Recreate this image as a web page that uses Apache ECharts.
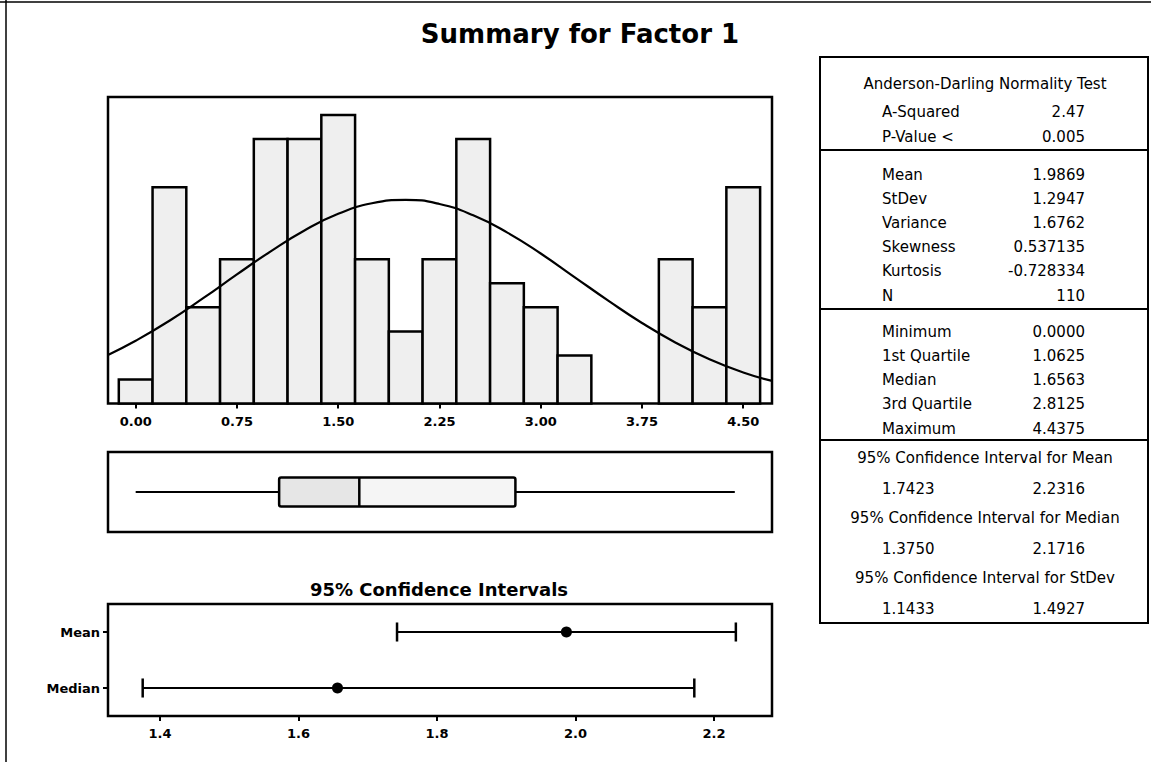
<!DOCTYPE html>
<html><head><meta charset="utf-8">
<script src="https://cdn.jsdelivr.net/npm/echarts@6/dist/echarts.min.js"></script>
<style>html,body{margin:0;padding:0;background:#fff}#c{width:1151px;height:762px}</style>
</head><body><div id="c"></div>
<script>
// ---- data ----
const binCenters = [0, 0.25, 0.5, 0.75, 1, 1.25, 1.5, 1.75, 2, 2.25, 2.5, 2.75, 3, 3.25, 3.5, 3.75, 4, 4.25, 4.5];
const binCounts  = [1, 9, 4, 6, 11, 11, 12, 6, 3, 6, 11, 5, 4, 2, 0, 0, 6, 4, 9];
const binWidth = 0.25;
const curveX = [-0.205, 0, 0.25, 0.5, 0.75, 1, 1.25, 1.5, 1.75, 2, 2.25, 2.5, 2.75, 3, 3.25, 3.5, 3.75, 4, 4.25, 4.5, 4.713];
const curveY = [2.02, 2.61, 3.44, 4.38, 5.37, 6.33, 7.2, 7.89, 8.33, 8.47, 8.3, 7.83, 7.12, 6.24, 5.26, 4.28, 3.35, 2.53, 1.84, 1.29, 0.94];
const histTicks = [0, 0.75, 1.5, 2.25, 3, 3.75, 4.5];
const boxStats = [0, 1.0625, 1.6563, 2.8125, 4.4375];
const ciLabels = ['Mean', 'Median'];
const ciLow  = [1.7423, 1.3750];
const ciHigh = [2.2316, 2.1716];
const ciEst  = [1.9869, 1.6563];
const ciTicks = [1.4, 1.6, 1.8, 2.0, 2.2];
const chartTitle = 'Summary for Factor 1';
const ciTitle = '95% Confidence Intervals';
const adHeader = 'Anderson-Darling Normality Test';
const adLabels = ['A-Squared', 'P-Value <'];
const adValues = ['2.47', '0.005'];
const momentLabels = ['Mean', 'StDev', 'Variance', 'Skewness', 'Kurtosis', 'N'];
const momentValues = ['1.9869', '1.2947', '1.6762', '0.537135', '-0.728334', '110'];
const quantLabels = ['Minimum', '1st Quartile', 'Median', '3rd Quartile', 'Maximum'];
const quantValues = ['0.0000', '1.0625', '1.6563', '2.8125', '4.4375'];
const ciTableHeaders = ['95% Confidence Interval for Mean', '95% Confidence Interval for Median', '95% Confidence Interval for StDev'];
const ciTableLow  = ['1.7423', '1.3750', '1.1433'];
const ciTableHigh = ['2.2316', '2.1716', '1.4927'];

// ---- layout ----
const FONT = "'DejaVu Sans', Verdana, sans-serif";
const GL = 108, GW = 664;
function txt(text, x, y, size, align, weight) {
  return { type: 'text', silent: true, style: {
    text: text, x: x, y: y, fill: '#000',
    font: (weight || 'normal') + ' ' + size + 'px ' + FONT,
    textAlign: align, textVerticalAlign: 'middle', align: align, verticalAlign: 'middle' } };
}
const graphics = [];
// page frame
graphics.push({ type: 'line', silent: true, shape: { x1: 0, y1: 2, x2: 1151, y2: 2 }, style: { stroke: '#000', lineWidth: 1.5 } });
graphics.push({ type: 'line', silent: true, shape: { x1: 6, y1: 0, x2: 6, y2: 762 }, style: { stroke: '#000', lineWidth: 1.5 } });
graphics.push(txt(chartTitle, 580, 34, 26, 'center', 'bold'));
graphics.push(txt(ciTitle, 439, 589, 18, 'center', 'bold'));
// table
const TX0 = 820, TX1 = 1148;
graphics.push({ type: 'rect', silent: true, shape: { x: TX0, y: 57, width: TX1 - TX0, height: 566 }, style: { fill: 'none', stroke: '#000', lineWidth: 2 } });
[150, 309, 440].forEach(function (y) {
  graphics.push({ type: 'line', silent: true, shape: { x1: TX0, y1: y, x2: TX1, y2: y }, style: { stroke: '#000', lineWidth: 2 } });
});
const LX = 882, RX = 1085, CX = 985, FS = 15;
graphics.push(txt(adHeader, CX, 84, FS, 'center'));
adLabels.forEach(function (l, i) { graphics.push(txt(l, LX, 112 + i * 24.5, FS, 'left')); graphics.push(txt(adValues[i], RX, 112 + i * 24.5, FS, 'right')); });
momentLabels.forEach(function (l, i) { graphics.push(txt(l, LX, 175 + i * 24.1, FS, 'left')); graphics.push(txt(momentValues[i], RX, 175 + i * 24.1, FS, 'right')); });
quantLabels.forEach(function (l, i) { graphics.push(txt(l, LX, 331.7 + i * 24.2, FS, 'left')); graphics.push(txt(quantValues[i], RX, 331.7 + i * 24.2, FS, 'right')); });
ciTableHeaders.forEach(function (h, i) {
  const y0 = 458.3 + i * 60;
  graphics.push(txt(h, CX, y0, FS, 'center'));
  graphics.push(txt(ciTableLow[i], LX, y0 + 30.5, FS, 'left'));
  graphics.push(txt(ciTableHigh[i], RX, y0 + 30.5, FS, 'right'));
});

const gridStyle = { show: true, borderColor: '#000', borderWidth: 2.5, backgroundColor: 'transparent', containLabel: false };
const tickStyle = { show: true, length: 5, lineStyle: { color: '#000', width: 2 } };
const labelStyle = { color: '#000', fontSize: 13, fontWeight: 'bold', fontFamily: FONT, margin: 11 };

const option = {
  animation: false,
  backgroundColor: '#fff',
  graphic: graphics,
  grid: [
    Object.assign({ left: GL, top: 97, width: GW, height: 306.5 }, gridStyle),
    Object.assign({ left: GL, top: 452, width: GW, height: 80 }, gridStyle),
    Object.assign({ left: GL, top: 604, width: GW, height: 112 }, gridStyle)
  ],
  xAxis: [
    { gridIndex: 0, type: 'value', min: -0.205, max: 4.713, axisLine: { show: false }, splitLine: { show: false },
      axisTick: Object.assign({ customValues: histTicks }, tickStyle),
      axisLabel: Object.assign({ customValues: histTicks, formatter: function (v) { return v.toFixed(2); } }, labelStyle) },
    { gridIndex: 1, type: 'value', min: -0.205, max: 4.713, show: false },
    { gridIndex: 2, type: 'value', min: 1.3249, max: 2.2838, axisLine: { show: false }, splitLine: { show: false },
      axisTick: Object.assign({ customValues: ciTicks }, tickStyle),
      axisLabel: Object.assign({ customValues: ciTicks, formatter: function (v) { return v.toFixed(1); } }, labelStyle) }
  ],
  yAxis: [
    { gridIndex: 0, type: 'value', min: 0, max: 12.75, show: false },
    { gridIndex: 1, type: 'category', data: [''], show: false },
    { gridIndex: 2, type: 'category', data: ciLabels, inverse: true, axisLine: { show: false }, splitLine: { show: false },
      axisTick: Object.assign({ alignWithLabel: true }, tickStyle),
      axisLabel: Object.assign({}, labelStyle, { margin: 8 }) }
  ],
  series: [
    { type: 'custom', xAxisIndex: 0, yAxisIndex: 0, z: 2,
      data: binCenters.map(function (c, i) { return [c, binCounts[i]]; }),
      encode: { x: 0, y: 1 },
      renderItem: function (params, api) {
        const c = api.value(0), n = api.value(1);
        if (!n) return null;
        const p0 = api.coord([c - binWidth / 2, n]);
        const p1 = api.coord([c + binWidth / 2, 0]);
        return { type: 'rect', shape: { x: p0[0], y: p0[1], width: p1[0] - p0[0], height: p1[1] - p0[1] },
          style: { fill: '#efefef', stroke: '#000', lineWidth: 2.5 } };
      } },
    { type: 'line', xAxisIndex: 0, yAxisIndex: 0, z: 5, smooth: true, showSymbol: false, symbol: 'none',
      data: curveX.map(function (x, i) { return [x, curveY[i]]; }),
      lineStyle: { color: '#000', width: 2.2 } },
    { type: 'custom', xAxisIndex: 1, yAxisIndex: 1, z: 3,
      data: [boxStats.concat([0])],
      encode: { x: [0, 1, 2, 3, 4], y: 5 },
      renderItem: function (params, api) {
        const y = api.coord([0, 0])[1];
        const h = api.size([0, 1])[1] * 0.36;
        const xs = [0, 1, 2, 3, 4].map(function (k) { return api.coord([api.value(k), 0])[0]; });
        const ls = { stroke: '#000', lineWidth: 2.2 };
        return { type: 'group', children: [
          { type: 'line', shape: { x1: xs[0], y1: y, x2: xs[1], y2: y }, style: ls },
          { type: 'line', shape: { x1: xs[3], y1: y, x2: xs[4], y2: y }, style: ls },
          { type: 'rect', shape: { x: xs[1], y: y - h / 2, width: xs[2] - xs[1], height: h }, style: { fill: '#e6e6e6', stroke: null } },
          { type: 'rect', shape: { x: xs[2], y: y - h / 2, width: xs[3] - xs[2], height: h }, style: { fill: '#f5f5f5', stroke: null } },
          { type: 'rect', shape: { x: xs[1], y: y - h / 2, width: xs[3] - xs[1], height: h, r: 2 }, style: { fill: 'none', stroke: '#000', lineWidth: 2.5 } },
          { type: 'line', shape: { x1: xs[2], y1: y - h / 2, x2: xs[2], y2: y + h / 2 }, style: { stroke: '#000', lineWidth: 2.5 } }
        ] };
      } },
    { type: 'custom', xAxisIndex: 2, yAxisIndex: 2, z: 3,
      data: ciLabels.map(function (l, i) { return [ciLow[i], ciHigh[i], i]; }),
      encode: { x: [0, 1], y: 2 },
      renderItem: function (params, api) {
        const a = api.coord([api.value(0), api.value(2)]);
        const b = api.coord([api.value(1), api.value(2)]);
        const cap = api.size([0, 1])[1] * 0.34 / 2;
        const ls = { stroke: '#000', lineWidth: 2 };
        return { type: 'group', children: [
          { type: 'line', shape: { x1: a[0], y1: a[1], x2: b[0], y2: b[1] }, style: ls },
          { type: 'line', shape: { x1: a[0], y1: a[1] - cap, x2: a[0], y2: a[1] + cap }, style: { stroke: '#000', lineWidth: 2.5 } },
          { type: 'line', shape: { x1: b[0], y1: b[1] - cap, x2: b[0], y2: b[1] + cap }, style: { stroke: '#000', lineWidth: 2.5 } }
        ] };
      } },
    { type: 'scatter', xAxisIndex: 2, yAxisIndex: 2, z: 6, symbol: 'circle', symbolSize: 11,
      data: ciEst.map(function (e, i) { return [e, i]; }),
      itemStyle: { color: '#000', opacity: 1 } }
  ]
};
const chart = echarts.init(document.getElementById('c'), null, { renderer: 'svg', width: 1151, height: 762 });
chart.setOption(option);
</script>
</body></html>
